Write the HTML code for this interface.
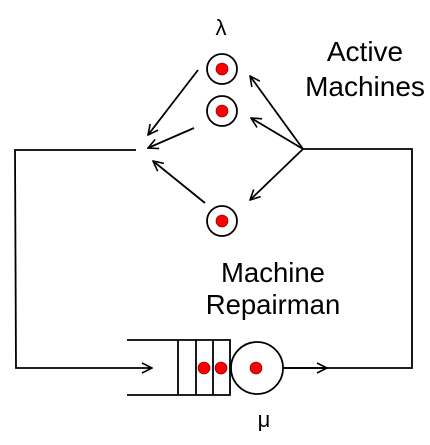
<!DOCTYPE html>
<html><head><meta charset="utf-8"><style>
html,body{margin:0;padding:0;background:#fff;}
svg{display:block;}
text{font-family:"Liberation Sans",sans-serif;fill:#000;}
</style></head><body>
<svg width="430" height="445" viewBox="0 0 430 445">
<defs>
<marker id="ah" viewBox="0 0 12 12" refX="11" refY="6" markerWidth="12" markerHeight="12" markerUnits="userSpaceOnUse" orient="auto">
<path d="M1,1 L11,6 L1,11" fill="none" stroke="#000" stroke-width="1.6"/>
</marker>
</defs>
<g stroke="#000" stroke-width="1.8" fill="none">
<polyline points="136,150 15,150 16,368 152,368" marker-end="url(#ah)"/>
<polyline points="283,368 412,368 412,149 303,149"/>
<line x1="283" y1="368" x2="327" y2="368" marker-end="url(#ah)"/>
<line x1="198" y1="70" x2="148" y2="135" marker-end="url(#ah)"/>
<line x1="194" y1="128" x2="148" y2="148" marker-end="url(#ah)"/>
<line x1="205" y1="203" x2="153" y2="161" marker-end="url(#ah)"/>
<line x1="303" y1="149" x2="250" y2="76" marker-end="url(#ah)"/>
<line x1="303" y1="149" x2="251" y2="118" marker-end="url(#ah)"/>
<line x1="303" y1="149" x2="250" y2="200" marker-end="url(#ah)"/>
<g>
<polyline points="127,340 230,340 230,395 127,395"/>
<line x1="178" y1="340" x2="178" y2="395"/>
<line x1="196" y1="340" x2="196" y2="395"/>
<line x1="213" y1="340" x2="213" y2="395"/>
</g>
<circle cx="257" cy="368" r="26" fill="#fff"/>
<circle cx="222" cy="69" r="15"/>
<circle cx="222" cy="111" r="15"/>
<circle cx="222" cy="221" r="15"/>
</g>
<g fill="#f00" stroke="#600" stroke-width="0.6">
<circle cx="222" cy="69" r="6"/>
<circle cx="222" cy="111" r="6"/>
<circle cx="222" cy="221" r="6"/>
<circle cx="204" cy="368" r="6"/>
<circle cx="221" cy="368" r="6"/>
<circle cx="256" cy="368" r="6"/>
</g>
<text x="221" y="35" font-size="22" text-anchor="middle">λ</text>
<text font-size="28" text-anchor="middle"><tspan x="365" y="61">Active</tspan><tspan x="365" y="96">Machines</tspan></text>
<text font-size="27.5" text-anchor="middle"><tspan x="273" y="282">Machine</tspan><tspan x="273" y="314">Repairman</tspan></text>
<text x="264" y="427" font-size="22" text-anchor="middle">μ</text>
</svg>
</body></html>
